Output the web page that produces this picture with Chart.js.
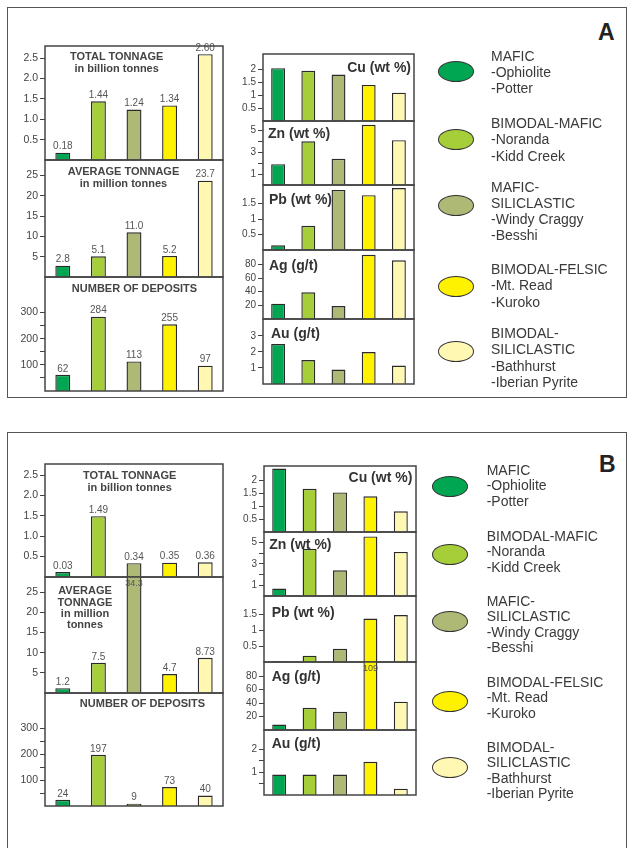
<!DOCTYPE html>
<html><head><meta charset="utf-8">
<script src="https://cdn.jsdelivr.net/npm/chart.js@4/dist/chart.umd.min.js"></script>
<style>
body{margin:0;background:#fff;width:633px;height:848px;overflow:hidden;position:relative;font-family:"Liberation Sans",Arial,sans-serif;}
canvas{position:absolute;}
.frame{position:absolute;border:1px solid #555;box-sizing:border-box;}
.ttl{position:absolute;font-weight:bold;font-size:11px;color:#444;text-align:center;white-space:nowrap;transform:translateX(-50%);}
.mt{position:absolute;font-weight:bold;font-size:14px;color:#333;white-space:nowrap;line-height:16px;}
.ell{position:absolute;border:1px solid #333;border-radius:50%;box-sizing:border-box;}
.lt{position:absolute;font-size:14px;color:#3a3a3a;white-space:nowrap;}
.big{position:absolute;font-weight:bold;font-size:23px;color:#222;line-height:23px;}
</style>
</head><body>
<script>
// ---------- DATA ----------
const categories = ['MAFIC','BIMODAL-MAFIC','MAFIC-SILICLASTIC','BIMODAL-FELSIC','BIMODAL-SILICLASTIC'];
const colors = ['#00a651','#a6ce39','#adb975','#fff200','#fff8b2'];

// Panel A
const tonnageA = [0.18, 1.44, 1.24, 1.34, 2.60];
const avgTonnageA = [2.8, 5.1, 11.0, 5.2, 23.7];
const depositsA = [62, 284, 113, 255, 97];
const cuA = [2.05, 1.95, 1.8, 1.4, 1.1];
const znA = [1.9, 4.0, 2.4, 5.5, 4.1];
const pbA = [0.15, 0.78, 1.94, 1.77, 2.0];
const agA = [22.5, 39, 19, 94, 86];
const auA = [2.5, 1.5, 0.9, 2.0, 1.15];

// Panel B
const tonnageB = [0.03, 1.49, 0.34, 0.35, 0.36];
const avgTonnageB = [1.2, 7.5, 34.3, 4.7, 8.73];
const depositsB = [24, 197, 9, 73, 40];
const cuB = [2.45, 1.67, 1.53, 1.38, 0.8];
const znB = [0.7, 4.4, 2.4, 5.55, 4.1];
const pbB = [0.03, 0.2, 0.42, 1.37, 1.48];
const agB = [8, 33, 27, 109, 42];
const auB = [0.9, 0.9, 0.9, 1.46, 0.28];

// tick values
const tonnageTicks = [0.5, 1, 1.5, 2, 2.5];
const avgTicks = [5, 10, 15, 20, 25];
const depositTicks = [50, 100, 150, 200, 250, 300];
const depositLabels = [100, 200, 300];
const cuTicks = [0.5, 1, 1.5, 2];
const znTicks = [1, 2, 3, 4, 5];
const znLabels = [1, 3, 5];
const pbTicks = [0.5, 1, 1.5];
const agTicks = [20, 40, 60, 80];
const auTicksA = [1, 2, 3];
const auTicksB = [0.5, 1, 1.5, 2];
const auLabelsB = [1, 2];

const legendItems = [
  ['MAFIC','-Ophiolite','-Potter'],
  ['BIMODAL-MAFIC','-Noranda','-Kidd Creek'],
  ['MAFIC-','SILICLASTIC','-Windy Craggy','-Besshi'],
  ['BIMODAL-FELSIC','-Mt. Read','-Kuroko'],
  ['BIMODAL-','SILICLASTIC','-Bathhurst','-Iberian Pyrite']
];

// ---------- HELPERS ----------
const FONT = '"Liberation Sans", Arial, sans-serif';
function el(cls, css, html){const d=document.createElement('div');d.className=cls;Object.assign(d.style,css);if(html!==undefined)d.innerHTML=html;document.body.appendChild(d);return d;}

const framePlugin = {id:'frame', afterDraw(ch){const {ctx, chartArea:a}=ch;ctx.save();ctx.strokeStyle='#444';ctx.lineWidth=1.5;ctx.strokeRect(a.left,a.top,a.right-a.left,a.bottom-a.top);ctx.restore();}};

function fmtTon(v){return v.toFixed(2);}
function fmtAvg(v){return Number.isInteger(v)? v.toFixed(1) : String(v);}
function fmtStr(v){return String(v);}

function makeChart(s){
  const AW=40, PT=10, PB=10, PR=6;
  const c=document.createElement('canvas');
  const w=Math.round(s.x1-s.x0)+AW+PR, h=Math.round(s.y1-s.y0)+PT+PB;
  c.width=w;c.height=h;
  c.style.left=(s.x0-AW)+'px';c.style.top=(s.y0-PT)+'px';
  document.body.appendChild(c);
  const labeled = s.labeled || s.ticks;
  const valuePlugin = {id:'vals', afterDatasetsDraw(ch){
    const meta=ch.getDatasetMeta(0), ctx=ch.ctx, a=ch.chartArea;
    ctx.save();ctx.textAlign='center';
    meta.data.forEach((bar,i)=>{
      const v=s.data[i];
      if(v>s.max){
        ctx.font='9px '+FONT;ctx.fillStyle='#555';ctx.textBaseline='top';
        ctx.fillText(s.fmt(v), bar.x, a.top+2);
      } else if(s.showValues){
        ctx.font='10px '+FONT;ctx.fillStyle='#555';ctx.textBaseline='bottom';
        ctx.fillText(s.fmt(v), bar.x, bar.y-1);
      }
    });
    ctx.restore();
  }};
  new Chart(c,{
    type:'bar',
    data:{labels:categories,datasets:[{data:s.data,backgroundColor:colors,borderColor:'#2a2a2a',borderWidth:1.4,
      barPercentage:s.bp,categoryPercentage:1,clip:0,minBarLength:s.minBar||0}]},
    options:{
      responsive:false,animation:false,devicePixelRatio:1,
      layout:{autoPadding:false,padding:{top:PT,bottom:PB,left:0,right:PR}},
      plugins:{legend:{display:false},tooltip:{enabled:false}},
      scales:{
        x:{display:false},
        y:{min:0,max:s.max,bounds:'data',
          afterFit(a){a.width=AW;},
          afterBuildTicks(a){a.ticks=s.ticks.map(v=>({value:v}));},
          border:{display:false},
          grid:{drawOnChartArea:false,drawTicks:true,tickLength:5,color:'#444',lineWidth:1},
          ticks:{font:{size:s.fs||9.5,family:FONT},color:'#444',padding:2,
            callback:(v)=> labeled.includes(v)? s.tickFmt(v) : ''}
        }
      }
    },
    plugins:[framePlugin,valuePlugin]
  });
}

// ---------- FRAMES & BIG LETTERS ----------
el('frame',{left:'7px',top:'7px',width:'620px',height:'391px'});
el('frame',{left:'7px',top:'432px',width:'620px',height:'430px'});
el('big',{left:'598px',top:'21px'},'A');
el('big',{left:'599px',top:'453px'},'B');

// ---------- PANEL A ----------
const LB=0.42, MB=0.46, LF=10.5;
makeChart({x0:45,x1:223,y0:46,y1:160,data:tonnageA,max:2.8,ticks:tonnageTicks,tickFmt:v=>v.toFixed(1),fmt:fmtTon,showValues:true,bp:LB,fs:LF});
makeChart({x0:45,x1:223,y0:160,y1:277,data:avgTonnageA,max:28.8,ticks:avgTicks,tickFmt:fmtStr,fmt:fmtAvg,showValues:true,bp:LB,fs:LF});
makeChart({x0:45,x1:223,y0:277,y1:391,data:depositsA,max:436,ticks:depositTicks,labeled:depositLabels,tickFmt:fmtStr,fmt:fmtStr,showValues:true,bp:LB,fs:LF});

makeChart({x0:263,x1:414,y0:54,y1:121,data:cuA,max:2.6,ticks:cuTicks,tickFmt:fmtStr,fmt:fmtStr,bp:MB,fs:10});
makeChart({x0:263,x1:414,y0:121,y1:185,data:znA,max:5.85,ticks:znTicks,labeled:znLabels,tickFmt:fmtStr,fmt:fmtStr,bp:MB,fs:10});
makeChart({x0:263,x1:414,y0:185,y1:250,data:pbA,max:2.1,ticks:pbTicks,tickFmt:fmtStr,fmt:fmtStr,bp:MB,fs:10});
makeChart({x0:263,x1:414,y0:250,y1:319,data:agA,max:101,ticks:agTicks,tickFmt:fmtStr,fmt:fmtStr,bp:MB,fs:10});
makeChart({x0:263,x1:414,y0:319,y1:384,data:auA,max:4.06,ticks:auTicksA,tickFmt:fmtStr,fmt:fmtStr,bp:MB,fs:10});

// ---------- PANEL B ----------
makeChart({x0:45,x1:223,y0:464,y1:577,data:tonnageB,max:2.77,ticks:tonnageTicks,tickFmt:v=>v.toFixed(1),fmt:fmtTon,showValues:true,bp:LB,minBar:5,fs:LF});
makeChart({x0:45,x1:223,y0:577,y1:693,data:avgTonnageB,max:28.8,ticks:avgTicks,tickFmt:fmtStr,fmt:fmtAvg,showValues:true,bp:LB,fs:LF});
makeChart({x0:45,x1:223,y0:693,y1:806,data:depositsB,max:435,ticks:depositTicks,labeled:depositLabels,tickFmt:fmtStr,fmt:fmtStr,showValues:true,bp:LB,fs:LF});

makeChart({x0:264,x1:416,y0:466,y1:532,data:cuB,max:2.55,ticks:cuTicks,tickFmt:fmtStr,fmt:fmtStr,bp:MB,fs:10});
makeChart({x0:264,x1:416,y0:532,y1:596,data:znB,max:5.96,ticks:znTicks,labeled:znLabels,tickFmt:fmtStr,fmt:fmtStr,bp:MB,fs:10});
makeChart({x0:264,x1:416,y0:596,y1:662,data:pbB,max:2.08,ticks:pbTicks,tickFmt:fmtStr,fmt:fmtStr,bp:MB,fs:10});
makeChart({x0:264,x1:416,y0:662,y1:730,data:agB,max:101,ticks:agTicks,tickFmt:fmtStr,fmt:fmtStr,bp:MB,fs:10});
makeChart({x0:264,x1:416,y0:730,y1:795,data:auB,max:2.86,ticks:auTicksB,labeled:auLabelsB,tickFmt:fmtStr,fmt:fmtStr,bp:MB,fs:10});

// ---------- TITLES ----------
function ttl(cx, y, lines, lh){el('ttl',{left:cx+'px',top:(y-lh/2)+'px',lineHeight:lh+'px'},lines.join('<br>'));}
ttl(116.7,57,['TOTAL TONNAGE','in billion tonnes'],11.7);
ttl(123.5,171.7,['AVERAGE TONNAGE','in million tonnes'],11.7);
ttl(134.5,289.3,['NUMBER OF DEPOSITS'],11.7);
ttl(129.7,476,['TOTAL TONNAGE','in billion tonnes'],11.7);
ttl(85,591,['AVERAGE','TONNAGE','in million','tonnes'],11.1);
ttl(142.5,704,['NUMBER OF DEPOSITS'],11.7);

function mt(x,y,txt,right){const d=el('mt',{left:x+'px',top:(y-8)+'px'},txt);if(right)d.style.transform='translateX(-100%)';}
mt(411,66.7,'Cu (wt %)',true);
mt(268,133.3,'Zn (wt %)');
mt(269,199.3,'Pb (wt %)');
mt(269,265,'Ag (g/t)');
mt(271,333.3,'Au (g/t)');
mt(412.3,476.7,'Cu (wt %)',true);
mt(269.3,544,'Zn (wt %)');
mt(271.7,611.7,'Pb (wt %)');
mt(271.7,676,'Ag (g/t)');
mt(271.7,743.3,'Au (g/t)');

// ---------- LEGENDS ----------
function legend(ex, ecy, tx, tys, lh){
  legendItems.forEach((lines,i)=>{
    el('ell',{left:(ex-18)+'px',top:(ecy[i]-10.5)+'px',width:'36px',height:'21px',background:colors[i]});
    el('lt',{left:tx+'px',top:(tys[i]-lh/2)+'px',lineHeight:lh+'px'},lines.join('<br>'));
  });
}
legend(456,[71.3,139,205.7,286,351],491,[56,123.3,186.7,269.3,333.3],16.3);
legend(450,[486,554,621.7,701.7,767.3],486.7,[470.7,536.7,601.7,682.7,747.3],15.5);
</script>
</body></html>
